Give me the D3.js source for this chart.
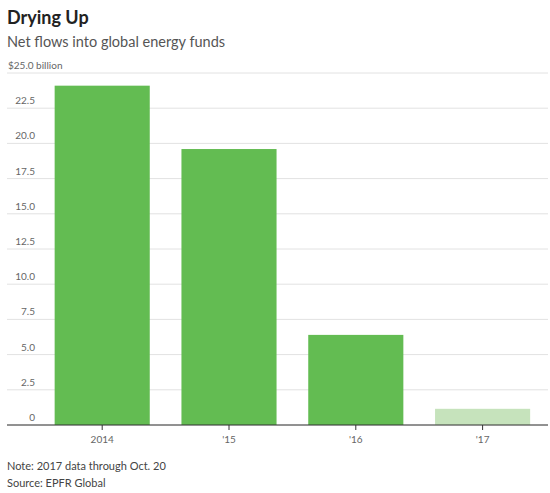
<!DOCTYPE html>
<html><head><meta charset="utf-8">
<script src="https://cdn.jsdelivr.net/npm/d3@7"></script>
<style>body{margin:0;background:#fff;font-family:Lato,"Noto Sans",sans-serif;}</style>
</head><body>
<script>
const years = ["2014", "'15", "'16", "'17"];
const flows = [24.1, 19.6, 6.4, 1.15];
const barColors = ["#63bc52", "#63bc52", "#63bc52", "#c6e3bc"];
const yTicks = [0, 2.5, 5, 7.5, 10, 12.5, 15, 17.5, 20, 22.5, 25];

const svg = d3.select("body").append("svg").attr("width", 550).attr("height", 493);

let x = d3.scaleBand().domain(years).range([38.8, 546]).paddingInner(0.25).paddingOuter(0.125);
let y = d3.scaleLinear().domain([0, 25]).range([425, 73]);

svg.append("text").attr("x", 7).attr("y", 24).attr("font-size", 18).attr("font-weight", "bold")
  .attr("fill", "#222").text("Drying Up");
svg.append("text").attr("x", 7).attr("y", 47).attr("font-size", 14.5).attr("fill", "#555")
  .text("Net flows into global energy funds");

// gridlines + labels
yTicks.forEach(function (t) {
  svg.append("line").attr("x1", 7).attr("x2", 548).attr("y1", y(t)).attr("y2", y(t))
    .attr("stroke", "#e2e2e2");
  const lab = svg.append("text").attr("y", y(t) - 4).attr("font-size", 10).attr("fill", "#666");
  if (t === 25) lab.attr("x", 8).text("$25.0 billion");
  else lab.attr("x", 35).attr("text-anchor", "end").text(t === 0 ? "0" : t.toFixed(1));
});

svg.selectAll("rect.bar").data(years).enter().append("rect")
  .attr("class", "bar")
  .attr("x", d => x(d))
  .attr("width", x.bandwidth())
  .attr("y", (d, i) => y(flows[i]))
  .attr("height", (d, i) => y(0) - y(flows[i]))
  .attr("fill", (d, i) => barColors[i]);

const ax = svg.append("g").attr("transform", "translate(0,425)")
  .call(d3.axisBottom(x).tickSizeOuter(0).tickSize(5).tickPadding(6));
ax.select(".domain").remove();
ax.selectAll("line").attr("stroke", "#333");
ax.selectAll("text").attr("font-size", 10).attr("fill", "#666").attr("font-family", "Lato,sans-serif");
svg.append("line").attr("x1", 7).attr("x2", 548).attr("y1", 425).attr("y2", 425).attr("stroke", "#333");

svg.append("text").attr("x", 7).attr("y", 470).attr("font-size", 11).attr("fill", "#444")
  .text("Note: 2017 data through Oct. 20");
svg.append("text").attr("x", 7).attr("y", 487).attr("font-size", 11).attr("fill", "#444")
  .text("Source: EPFR Global");
</script>
</body></html>
